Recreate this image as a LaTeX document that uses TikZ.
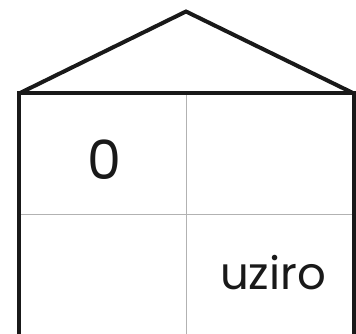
\documentclass[tikz,border=0pt]{standalone}
\usepackage{fontspec}
\setmainfont{Poppins}
\begin{document}
\begin{tikzpicture}[x=1pt,y=-1pt,
  wall/.style={line width=4pt,draw=black!90,line join=miter},
  grid/.style={line width=1pt,draw=black!30},
  lbl/.style={text=black!90,inner sep=0pt}]
\useasboundingbox (0,0) rectangle (356,334);
\coordinate (bl) at (19,334);
\coordinate (tl) at (19,93.5);
\coordinate (tr) at (354,93.5);
\coordinate (br) at (354,334);
\coordinate (apex) at (186,11.5);
\coordinate (mt) at (186.5,93.5);
\coordinate (mb) at (186.5,334);
\coordinate (ml) at (19,214);
\coordinate (mr) at (354,214);
\draw[grid] (mt) -- (mb);
\draw[grid] (ml) -- (mr);
\draw[wall] (bl) -- (tl) -- (tr) -- (br);
\draw[wall] (tl) -- (apex) -- (tr);
\node[lbl,font=\fontsize{54}{54}\selectfont] (zero) at (104,160) {0};
\node[lbl,font=\fontsize{45}{45}\selectfont] (uziro) at (273,273) {uziro};
\end{tikzpicture}
\end{document}
